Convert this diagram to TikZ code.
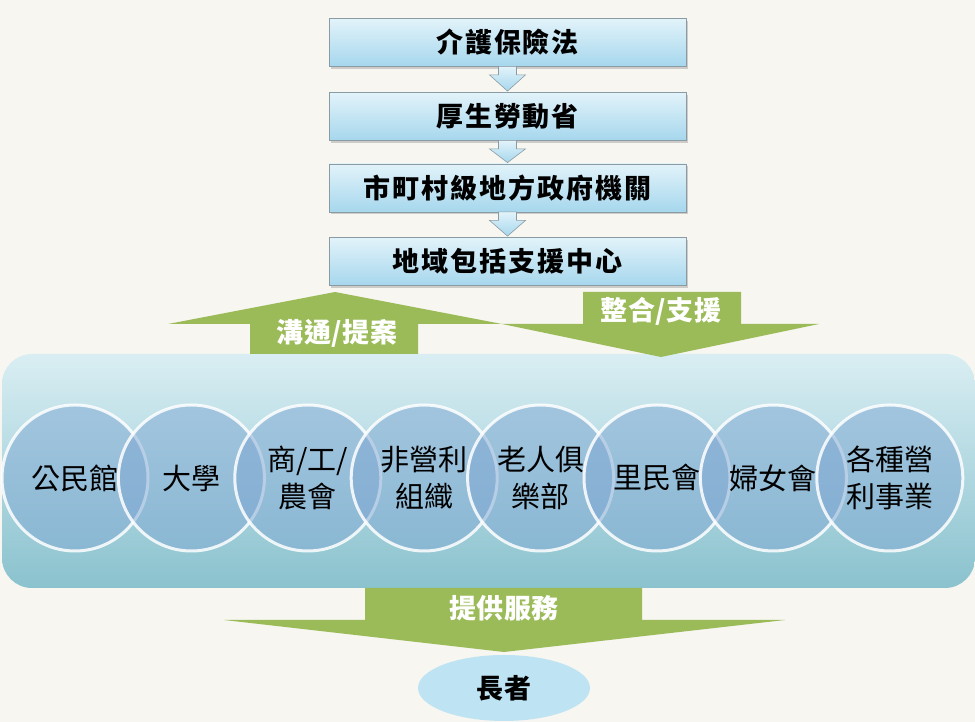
\documentclass[tikz,border=0pt]{standalone}
\usepackage{fontspec}
\newfontfamily\cjk{Noto Sans CJK TC}
\newfontfamily\cjkb{Noto Sans CJK TC}[LetterSpace=7]
\newfontfamily\cjkg{Noto Sans CJK TC}[LetterSpace=2]
\usetikzlibrary{shapes.geometric,shadows,calc}
\definecolor{bg}{HTML}{F8F6F1}
\definecolor{agreen}{HTML}{9BBB59}
\definecolor{boxtop}{HTML}{E2F3FA}
\definecolor{boxbot}{HTML}{A6D7ED}
\definecolor{boxline}{HTML}{8A9BA3}
\definecolor{paneltop}{HTML}{D9EEF3}
\definecolor{panelbot}{HTML}{8AC2CE}
\definecolor{circ}{HTML}{7EA7D3}
\definecolor{ell}{HTML}{BEE3F2}
\begin{document}
\begin{tikzpicture}[x=1pt,y=1pt,
  tbox/.style={draw=boxline, line width=0.8pt, top color=boxtop, bottom color=boxbot,
    minimum width=357pt, minimum height=48pt, inner sep=0pt,
    font=\cjkb\bfseries\fontsize{27}{30}\selectfont,
    drop shadow={opacity=0.35, shadow xshift=1.5pt, shadow yshift=-2.5pt}},
  smallarrow/.style={draw=boxline, line width=0.6pt, top color=boxtop, bottom color=boxbot},
  glabel/.style={text=white, inner sep=0pt, font=\cjkg\bfseries\fontsize{27}{30}\selectfont},
  org/.style={circle, minimum size=146pt, inner sep=0pt, fill=circ, fill opacity=0.5,
    draw=white, draw opacity=0.85, line width=3pt, text opacity=1, align=center,
    font=\cjk\fontsize{29}{37}\selectfont},
  panelbox/.style={rounded corners=30pt, top color=paneltop, bottom color=panelbot,
    minimum width=973pt, minimum height=234pt, inner sep=0pt},
  elderbox/.style={ellipse, fill=ell, minimum width=172pt, minimum height=66pt, inner sep=0pt,
    font=\cjkg\bfseries\fontsize{27}{30}\selectfont}
]
\fill[bg] (0,0) rectangle (975,722);
\useasboundingbox (0,0) rectangle (975,722);

% top chain
\node[tbox] (b1) at (507.5,679.5) {介護保險法};
\node[tbox] (b2) at (507.5,605.5) {厚生勞動省};
\node[tbox] (b3) at (507.5,534) {市町村級地方政府機關};
\node[tbox] (b4) at (507.5,460.5) {地域包括支援中心};

\foreach \a/\b in {b1/b2,b2/b3,b3/b4}{
  \path[smallarrow] ($(\a.south)+(-9,0.5)$) -- ($(\a.south)+(-9,-8)$) -- ($(\a.south)+(-18,-8)$)
    -- ($(\b.north)+(0,1)$) -- ($(\a.south)+(18,-8)$) -- ($(\a.south)+(9,-8)$)
    -- ($(\a.south)+(9,0.5)$) -- cycle;
}

% panel
\node[panelbox] (panel) at (488.5,251) {};

% green arrows
\fill[agreen] (250,368) -- (250,398) -- (168,398) -- (335,430) -- (502,398) -- (418,398) -- (418,368) -- cycle;
\fill[agreen] (583,430) -- (741,430) -- (741,398) -- (819,398) -- (661,365) -- (502,398) -- (583,398) -- cycle;
\node[glabel] (l1) at (337,389) {溝通/提案};
\node[glabel] (l2) at (661,411) {整合/支援};

% circles
\node[org] (c1) at (75,244) {公民館};
\node[org] (c2) at (191.4,244) {大學};
\node[org] (c3) at (307.8,244) {商/工/\\農會};
\node[org] (c4) at (424.2,244) {非營利\\組織};
\node[org] (c5) at (540.6,244) {老人俱\\樂部};
\node[org] (c6) at (657,244) {里民會};
\node[org] (c7) at (773.4,244) {婦女會};
\node[org] (c8) at (889.8,244) {各種營\\利事業};

% bottom arrow
\fill[agreen] (365,134) -- (642,134) -- (642,102) -- (785,102) -- (504,70) -- (224,102) -- (365,102) -- cycle;
\node[glabel] (l3) at (504,114) {提供服務};

\node[elderbox] (elder) at (504,34) {長者};
\end{tikzpicture}
\end{document}
